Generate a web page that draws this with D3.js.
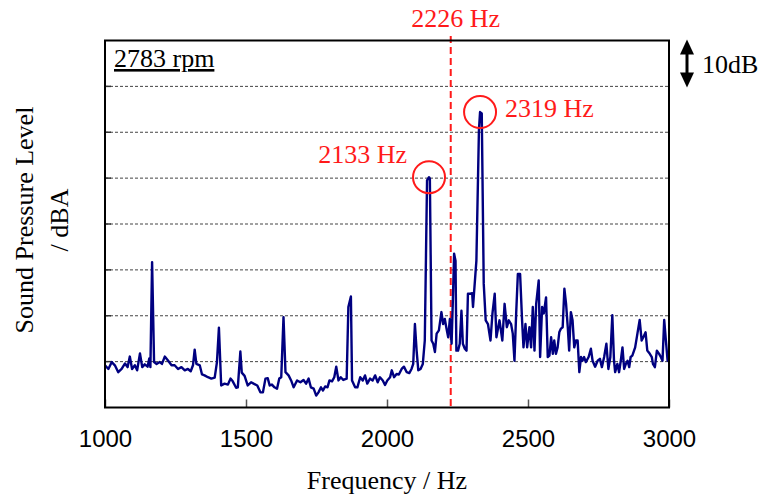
<!DOCTYPE html>
<html>
<head>
<meta charset="utf-8">
<script src="https://cdn.jsdelivr.net/npm/d3@7"></script>
<style>
  body { margin: 0; background: #fff; }
  .serif { font-family: 'Liberation Serif', 'Times New Roman', serif; }
  .tick-label { font-family: 'Liberation Sans', Arial, sans-serif; font-size: 24px; }
</style>
</head>
<body>
<div id="chart"></div>
<script>
// Spectrum at 2783 rpm (relative level, dB)
const freqHz = [
  1000, 1012, 1024, 1035, 1047, 1059, 1071, 1080, 1088, 1096, 1106, 1114, 1124, 1132, 1141, 1151,
  1157, 1161, 1167, 1174, 1183, 1194, 1202, 1212, 1224, 1236, 1247, 1259, 1271, 1283, 1294, 1304,
  1312, 1318, 1324, 1336, 1344, 1353, 1365, 1377, 1389, 1397, 1404, 1412, 1424, 1436, 1445, 1453,
  1465, 1471, 1480, 1485, 1495, 1506, 1518, 1527, 1540, 1551, 1560, 1569, 1577, 1584, 1592, 1601,
  1610, 1618, 1625, 1633, 1640, 1651, 1660, 1669, 1681, 1693, 1704, 1713, 1722, 1730, 1740, 1749,
  1757, 1766, 1773, 1781, 1789, 1796, 1805, 1813, 1820, 1828, 1836, 1845, 1857, 1863, 1872, 1876,
  1887, 1895, 1905, 1914, 1922, 1930, 1940, 1949, 1958, 1967, 1975, 1985, 1993, 2001, 2011, 2017,
  2025, 2034, 2042, 2052, 2060, 2070, 2079, 2087, 2093, 2099, 2105, 2111, 2119, 2127, 2134, 2142,
  2149, 2152, 2158, 2164, 2170, 2176, 2184, 2193, 2199, 2205, 2211, 2217, 2223, 2229, 2233, 2238,
  2243, 2246, 2252, 2258, 2264, 2269, 2276, 2282, 2287, 2295, 2302, 2305, 2317, 2326, 2330, 2336,
  2343, 2350, 2358, 2367, 2374, 2382, 2388, 2399, 2409, 2417, 2425, 2432, 2440, 2446, 2452, 2458,
  2464, 2472, 2479, 2484, 2491, 2497, 2505, 2511, 2517, 2523, 2529, 2538, 2543, 2550, 2556, 2564,
  2570, 2576, 2582, 2588, 2593, 2599, 2605, 2611, 2617, 2623, 2629, 2635, 2641, 2646, 2652, 2658,
  2664, 2670, 2676, 2682, 2688, 2693, 2699, 2705, 2715, 2723, 2729, 2738, 2747, 2755, 2762, 2770,
  2778, 2785, 2792, 2799, 2805, 2809, 2817, 2823, 2829, 2835, 2841, 2847, 2853, 2859, 2864, 2870,
  2880, 2888, 2896, 2903, 2909, 2917, 2923, 2932, 2939, 2943, 2950, 2957, 2965, 2971, 2977, 2983,
  2989, 2995, 3000
];
const levelDb = [
  9.2, 8.4, 9.9, 9.2, 7.7, 8.4, 9.6, 8.8, 11.1, 8.4, 9.2, 8.1, 11.8, 8.8, 9.4, 8.9,
  10.7, 8.8, 31.7, 9.9, 9.5, 9.9, 9.5, 11.1, 10.2, 9.2, 9.2, 8.4, 8.8, 8.1, 8.4, 7.9,
  9.2, 12.6, 9.5, 9.2, 7.2, 7.0, 6.6, 6.3, 6.5, 9.9, 17.4, 4.8, 5.2, 5.0, 6.3, 5.7,
  4.3, 4.4, 12.2, 7.6, 6.9, 4.8, 5.5, 5.2, 4.8, 3.3, 3.3, 6.3, 6.4, 4.8, 5.0, 4.4,
  4.1, 6.3, 6.6, 19.7, 7.7, 7.0, 5.9, 4.4, 5.9, 5.5, 6.0, 5.2, 6.3, 4.4, 4.1, 2.6,
  3.3, 4.4, 3.7, 4.6, 4.4, 5.9, 5.7, 6.6, 8.9, 5.9, 6.6, 6.0, 6.3, 21.9, 24.2, 5.9,
  4.4, 4.4, 6.6, 5.9, 7.0, 5.2, 6.3, 5.9, 7.0, 5.5, 6.6, 5.9, 4.9, 5.9, 6.6, 8.1,
  6.6, 7.3, 7.2, 8.4, 8.9, 7.7, 7.5, 8.4, 9.5, 18.2, 12.4, 8.1, 8.4, 9.5, 14.6, 49.5,
  50.2, 49.9, 14.6, 13.9, 12.1, 16.1, 16.8, 20.8, 18.2, 19.3, 17.2, 15.3, 19.3, 13.9, 22.2, 33.5,
  32.0, 12.4, 12.4, 13.9, 21.1, 13.9, 12.8, 12.4, 24.8, 24.8, 24.9, 21.9, 32.0, 60.4, 64.4, 64.1,
  27.0, 19.0, 18.2, 14.6, 20.5, 24.8, 15.3, 19.0, 14.6, 22.6, 17.5, 19.0, 18.2, 16.1, 10.2, 20.4,
  29.1, 29.1, 19.0, 13.1, 18.2, 13.1, 17.5, 13.1, 21.9, 12.4, 22.6, 27.7, 11.0, 21.9, 20.5, 24.0,
  11.0, 11.3, 15.3, 11.7, 14.6, 11.7, 13.1, 16.4, 17.2, 17.5, 25.9, 22.6, 17.5, 12.4, 20.8, 19.0,
  13.1, 14.6, 14.6, 7.7, 11.0, 10.2, 11.0, 9.9, 11.0, 12.8, 10.2, 8.9, 10.2, 10.6, 8.8, 11.0,
  13.9, 8.4, 11.0, 20.1, 10.2, 7.7, 9.5, 7.7, 10.2, 13.1, 8.4, 9.5, 10.2, 8.8, 11.0, 11.3,
  13.1, 16.1, 19.1, 14.6, 15.3, 16.4, 12.4, 11.7, 11.0, 9.5, 8.8, 12.4, 11.7, 11.0, 10.2, 19.1,
  14.6, 10.2, 11.0
];

// Axis ticks and annotations
const xTicks = [1000, 1500, 2000, 2500, 3000];
const gridDb = [10, 20, 30, 40, 50, 60, 70];
const refFreq = 2226;
const peakFreqs = [2133, 2319];
const peakLabels = ['2133 Hz', '2319 Hz'];

const width = 761, height = 499;
const box = { left: 105, right: 669, top: 40.5, bottom: 407.5 };
const red = '#ff1a1a';

const svg = d3.select('#chart').append('svg')
  .attr('width', width)
  .attr('height', height);

const x = d3.scaleLinear().domain([1000, 3000]).range([box.left, box.right]);
const y = d3.scaleLinear().domain([0, 80]).range([box.bottom, box.top]);

// Grid lines (10 dB apart)
svg.append('g').selectAll('line')
  .data(gridDb)
  .join('line')
  .attr('x1', box.left).attr('x2', box.right)
  .attr('y1', d => y(d)).attr('y2', d => y(d))
  .attr('stroke', '#444')
  .attr('stroke-width', 1)
  .attr('stroke-dasharray', '3,2');

// small inward ticks on the left
svg.append('g').selectAll('line')
  .data(gridDb)
  .join('line')
  .attr('x1', box.left).attr('x2', box.left + 6)
  .attr('y1', d => y(d)).attr('y2', d => y(d))
  .attr('stroke', '#333')
  .attr('stroke-width', 1.5);

// x axis: inward ticks + labels
const xAxis = d3.axisBottom(x)
  .tickValues(xTicks)
  .tickSize(-8)
  .tickPadding(22)
  .tickFormat(d3.format('d'));

const gx = svg.append('g')
  .attr('transform', `translate(0,${box.bottom})`)
  .call(xAxis);
gx.select('.domain').remove();
gx.selectAll('.tick line').attr('stroke', '#555').attr('stroke-width', 1.5);
gx.selectAll('.tick text')
  .attr('class', 'tick-label')
  .attr('fill', '#000')
  .style('font-size', '24px')
  .style('font-family', "'Liberation Sans', Arial, sans-serif");

// Reference line at 2226 Hz
svg.append('line')
  .attr('x1', x(refFreq)).attr('x2', x(refFreq))
  .attr('y1', 36).attr('y2', box.bottom)
  .attr('stroke', red)
  .attr('stroke-width', 2)
  .attr('stroke-dasharray', '7,4');

svg.append('text')
  .attr('class', 'serif')
  .attr('x', x(refFreq) + 5)
  .attr('y', 27)
  .attr('text-anchor', 'middle')
  .attr('fill', red)
  .style('font-size', '26px')
  .text(refFreq + ' Hz');

// Spectrum line
const points = freqHz.map((f, i) => ({ f: f, db: levelDb[i] }));
const line = d3.line().x(d => x(d.f)).y(d => y(d.db));

svg.append('path')
  .datum(points)
  .attr('d', line)
  .attr('fill', 'none')
  .attr('stroke', '#000080')
  .attr('stroke-width', 2.4)
  .attr('stroke-linejoin', 'round');

// Plot frame
svg.append('rect')
  .attr('x', box.left).attr('y', box.top)
  .attr('width', box.right - box.left)
  .attr('height', box.bottom - box.top)
  .attr('fill', 'none')
  .attr('stroke', '#000')
  .attr('stroke-width', 2);

// Peak markers: circle the highest point near each labelled frequency
peakFreqs.forEach((pf, i) => {
  const near = points.filter(p => Math.abs(p.f - pf) <= 30);
  const top = near.reduce((a, b) => (b.db > a.db ? b : a));
  const cx = x(top.f), cy = y(top.db);

  svg.append('circle')
    .attr('cx', cx).attr('cy', cy).attr('r', 16)
    .attr('fill', 'none')
    .attr('stroke', red)
    .attr('stroke-width', 2);

  const left = i === 0;
  svg.append('text')
    .attr('class', 'serif')
    .attr('x', left ? cx - 22 : cx + 25)
    .attr('y', left ? cy - 14 : cy + 5)
    .attr('text-anchor', left ? 'end' : 'start')
    .attr('fill', red)
    .style('font-size', '26px')
    .text(peakLabels[i]);
});

// rpm label (underlined)
svg.append('text')
  .attr('class', 'serif')
  .attr('x', 114).attr('y', 67)
  .style('font-size', '26px')
  .style('text-decoration', 'underline')
  .text('2783 rpm');

// 10 dB scale arrow
const arrowX = 687;
svg.append('line')
  .attr('x1', arrowX).attr('x2', arrowX)
  .attr('y1', y(70) - 40).attr('y2', y(70) - 5)
  .attr('stroke', '#000')
  .attr('stroke-width', 3);
svg.append('path')
  .attr('d', `M${arrowX - 7},${y(80) + 14} L${arrowX},${y(80) - 1} L${arrowX + 7},${y(80) + 14} Z`)
  .attr('fill', '#000');
svg.append('path')
  .attr('d', `M${arrowX - 7},${y(70) - 14} L${arrowX},${y(70) + 1} L${arrowX + 7},${y(70) - 14} Z`)
  .attr('fill', '#000');
svg.append('text')
  .attr('class', 'serif')
  .attr('x', 702).attr('y', 73)
  .style('font-size', '26px')
  .text('10dB');

// Axis titles
svg.append('text')
  .attr('class', 'serif')
  .attr('x', (box.left + box.right) / 2)
  .attr('y', 489)
  .attr('text-anchor', 'middle')
  .style('font-size', '26px')
  .text('Frequency / Hz');

svg.append('text')
  .attr('class', 'serif')
  .attr('transform', 'translate(33,220) rotate(-90)')
  .attr('text-anchor', 'middle')
  .style('font-size', '26px')
  .text('Sound Pressure Level');

svg.append('text')
  .attr('class', 'serif')
  .attr('transform', 'translate(68,220) rotate(-90)')
  .attr('text-anchor', 'middle')
  .style('font-size', '26px')
  .text('/ dBA');
</script>
</body>
</html>
